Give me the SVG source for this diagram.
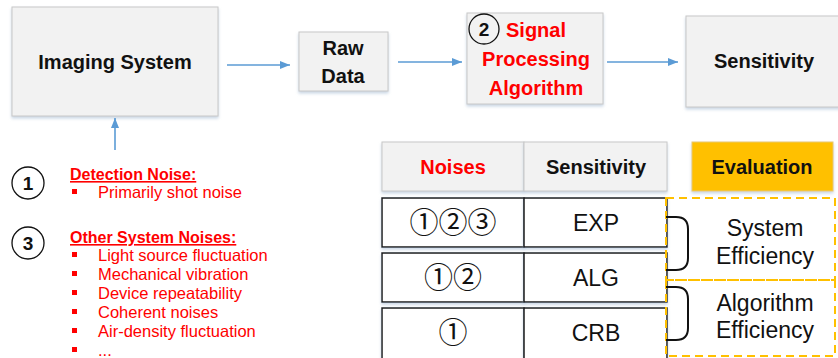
<svg xmlns="http://www.w3.org/2000/svg" width="838" height="358" viewBox="0 0 838 358">
  <defs>
    <filter id="shadow" x="-10%" y="-10%" width="120%" height="130%">
      <feDropShadow dx="0" dy="2" stdDeviation="1.5" flood-color="#9fb6d0" flood-opacity="0.55"/>
    </filter>
    <marker id="arrow" viewBox="0 0 10 10" refX="10" refY="5" markerWidth="10" markerHeight="10" markerUnits="userSpaceOnUse" orient="auto">
      <path d="M0,1 L10,5 L0,9 Z" fill="#5b9bd5"/>
    </marker>
  </defs>
  <style>
    .box { fill: #f2f2f2; stroke: #c8c8c8; stroke-width: 1; }
    .cell { fill: #ffffff; stroke: #1a1a1a; stroke-width: 1.5; }
    .eval { fill: #ffc000; stroke: #e8c870; stroke-width: 1; }
    .hd { font-family: "Liberation Sans", Arial, sans-serif; font-weight: bold; font-size: 20px; fill: #111111; text-anchor: middle; }
    .red { fill: #ff0000; }
    .num { font-family: "Liberation Sans", Arial, sans-serif; font-weight: bold; font-size: 19px; fill: #111111; text-anchor: middle; }
    .ring { fill: none; stroke: #111111; stroke-width: 1.3; }
    .note { font-family: "Liberation Sans", Arial, sans-serif; font-size: 16.5px; fill: #ff0000; }
    .noteh { font-family: "Liberation Sans", Arial, sans-serif; font-size: 16px; font-weight: bold; fill: #ff0000; text-decoration: underline; }
    .bullet { fill: #ff0000; }
    .val { font-family: "Liberation Sans", Arial, sans-serif; font-size: 23px; fill: #111111; text-anchor: middle; }
    .circ { font-family: "Noto Sans CJK JP", "DejaVu Serif", serif; font-size: 29px; fill: #111111; text-anchor: middle; }
    .dash { fill: none; stroke: #ffc000; stroke-width: 2; stroke-dasharray: 8 5; }
    .brace { fill: none; stroke: #111111; stroke-width: 2; }
    .link { fill: none; stroke: #5b9bd5; stroke-width: 1.6; }
  </style>

  <!-- pipeline -->
  <g id="imaging-system">
    <rect class="box" x="12" y="7" width="206" height="109" filter="url(#shadow)"/>
    <text class="hd" x="115" y="69">Imaging System</text>
  </g>
  <g id="raw-data">
    <rect class="box" x="299" y="32" width="89" height="59" filter="url(#shadow)"/>
    <text class="hd" x="343" y="55" font-size="19">Raw</text>
    <text class="hd" x="343" y="83" font-size="19">Data</text>
  </g>
  <g id="signal-processing">
    <rect class="box" x="467" y="13" width="136" height="91" filter="url(#shadow)"/>
    <circle class="ring" cx="484" cy="29" r="15"/>
    <text class="num" x="484" y="36">2</text>
    <text class="hd red" x="536" y="37">Signal</text>
    <text class="hd red" x="536" y="66">Processing</text>
    <text class="hd red" x="536" y="95">Algorithm</text>
  </g>
  <g id="sensitivity">
    <rect class="box" x="686" y="16" width="170" height="91" filter="url(#shadow)"/>
    <text class="hd" x="764" y="68">Sensitivity</text>
  </g>

  <g id="connectors">
    <line class="link" x1="227" y1="65" x2="290" y2="65" marker-end="url(#arrow)"/>
    <line class="link" x1="398" y1="62" x2="462" y2="62" marker-end="url(#arrow)"/>
    <line class="link" x1="607" y1="62" x2="678" y2="62" marker-end="url(#arrow)"/>
    <line class="link" x1="115" y1="150" x2="115" y2="118" marker-end="url(#arrow)"/>
  </g>

  <!-- noise sources -->
  <g id="noise-detection">
    <circle class="ring" cx="28" cy="183" r="16"/>
    <text class="num" x="28" y="190">1</text>
    <text class="noteh" x="70" y="180">Detection Noise:</text>
    <rect class="bullet" x="72" y="189" width="5" height="5"/>
    <text class="note" x="98" y="198">Primarily shot noise</text>
  </g>
  <g id="noise-system">
    <circle class="ring" cx="28" cy="243" r="16"/>
    <text class="num" x="28" y="250">3</text>
    <text class="noteh" x="70" y="243">Other System Noises:</text>
    <rect class="bullet" x="72" y="252" width="5" height="5"/>
    <text class="note" x="98" y="261">Light source fluctuation</text>
    <rect class="bullet" x="72" y="271" width="5" height="5"/>
    <text class="note" x="98" y="280">Mechanical vibration</text>
    <rect class="bullet" x="72" y="290" width="5" height="5"/>
    <text class="note" x="98" y="299">Device repeatability</text>
    <rect class="bullet" x="72" y="309" width="5" height="5"/>
    <text class="note" x="98" y="318">Coherent noises</text>
    <rect class="bullet" x="72" y="328" width="5" height="5"/>
    <text class="note" x="98" y="337">Air-density fluctuation</text>
    <rect class="bullet" x="72" y="347" width="5" height="5"/>
    <text class="note" x="98" y="356">...</text>
  </g>

  <!-- table -->
  <g id="table-header">
    <rect class="box" x="382" y="142" width="142" height="49" filter="url(#shadow)"/>
    <rect class="box" x="524" y="142" width="143" height="49" filter="url(#shadow)"/>
    <text class="hd red" x="453" y="174">Noises</text>
    <text class="hd" x="596" y="174">Sensitivity</text>
  </g>
  <g id="evaluation-header">
    <rect class="eval" x="692" y="142" width="141" height="49" filter="url(#shadow)"/>
    <text class="hd" x="762" y="174">Evaluation</text>
  </g>
  <g id="row-exp">
    <rect class="cell" x="382" y="198" width="142" height="49" filter="url(#shadow)"/>
    <rect class="cell" x="524" y="198" width="143" height="49" filter="url(#shadow)"/>
    <text class="circ" x="453" y="233">①②③</text>
    <text class="val" x="596" y="231">EXP</text>
  </g>
  <g id="row-alg">
    <rect class="cell" x="382" y="253" width="142" height="49" filter="url(#shadow)"/>
    <rect class="cell" x="524" y="253" width="143" height="49" filter="url(#shadow)"/>
    <text class="circ" x="453" y="288">①②</text>
    <text class="val" x="596" y="286">ALG</text>
  </g>
  <g id="row-crb">
    <rect class="cell" x="382" y="308" width="142" height="60" filter="url(#shadow)"/>
    <rect class="cell" x="524" y="308" width="143" height="60" filter="url(#shadow)"/>
    <text class="circ" x="453" y="343">①</text>
    <text class="val" x="596" y="341">CRB</text>
  </g>

  <g id="system-efficiency">
    <rect class="dash" x="666" y="198" width="169" height="82"/>
    <path class="brace" d="M666,217 L676,217 Q688,217 688,229 L688,258 Q688,270 676,270 L666,270"/>
    <text class="val" x="765" y="236">System</text>
    <text class="val" x="765" y="264">Efficiency</text>
  </g>
  <g id="algorithm-efficiency">
    <rect class="dash" x="666" y="280" width="169" height="76"/>
    <path class="brace" d="M666,287 L676,287 Q688,287 688,299 L688,328 Q688,340 676,340 L666,340"/>
    <text class="val" x="765" y="311">Algorithm</text>
    <text class="val" x="765" y="338">Efficiency</text>
  </g>
</svg>
